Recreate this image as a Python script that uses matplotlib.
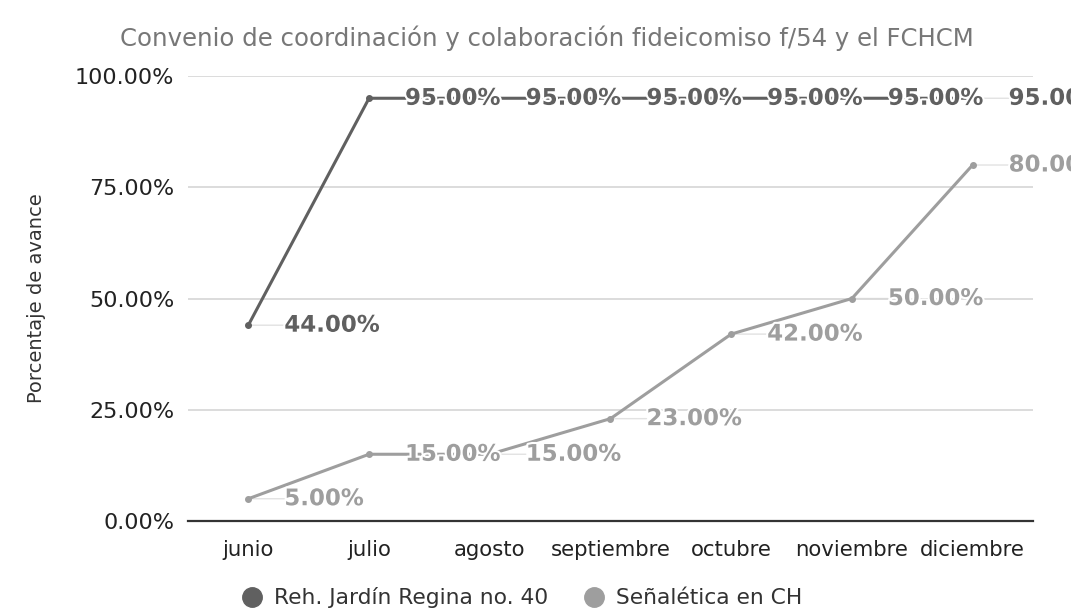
import matplotlib
matplotlib.use("Agg")
import matplotlib.pyplot as plt
import matplotlib.patheffects as pe
from matplotlib.ticker import FuncFormatter
from matplotlib.lines import Line2D

meses = ["junio", "julio", "agosto", "septiembre", "octubre", "noviembre", "diciembre"]
jardin_regina = [44, 95, 95, 95, 95, 95, 95]
senaletica = [5, 15, 15, 23, 42, 50, 80]
series_names = ["Reh. Jardín Regina no. 40", "Señalética en CH"]
series_colors = ["#606060", "#9e9e9e"]

plt.rcParams['font.family'] = ['DejaVu Sans']

fig = plt.figure(figsize=(10.71, 6.10), dpi=100)
ax = fig.add_axes([0.1755, 0.1459, 0.789, 0.7295])

x = list(range(len(meses)))
for vals, color in zip([jardin_regina, senaletica], series_colors):
    ax.plot(x, vals, color=color, lw=2.2, marker='o', markersize=4, zorder=3,
            solid_capstyle='round')

# value labels to the right of each point; the faint leader line sits under the series lines
for vals, color in zip([jardin_regina, senaletica], series_colors):
    for xi, v in zip(x, vals):
        ax.annotate("", xy=(xi, v), xytext=(36, 0), textcoords='offset pixels',
                    annotation_clip=False, zorder=1,
                    arrowprops=dict(arrowstyle='-', color='#e2e2e2', lw=1,
                                    shrinkA=0, shrinkB=0))
        ax.annotate("{:.2f}%".format(v), xy=(xi, v), xytext=(36, 0),
                    textcoords='offset pixels', ha='left', va='center',
                    fontsize=16.5, fontweight='bold', color=color,
                    annotation_clip=False, zorder=4,
                    path_effects=[pe.withStroke(linewidth=3, foreground='white')])

ax.set_xlim(-0.5, len(meses) - 0.5)
ax.set_ylim(0, 100)
ax.set_yticks([0, 25, 50, 75, 100])
ax.yaxis.set_major_formatter(FuncFormatter(lambda v, p: "{:.2f}%".format(v)))
ax.set_xticks(x)
ax.set_xticklabels(meses)
ax.tick_params(axis='both', length=0, colors='#222222')
ax.tick_params(axis='x', pad=14, labelsize=15.3)
ax.tick_params(axis='y', pad=10, labelsize=16)
ax.grid(axis='y', color='#d6d6d6', lw=1.2, zorder=0)
for s in ['top', 'right', 'left']:
    ax.spines[s].set_visible(False)
ax.spines['bottom'].set_color('#333333')
ax.spines['bottom'].set_linewidth(1.6)
ax.spines['bottom'].set_zorder(2)

ax.set_ylabel("Porcentaje de avance", fontsize=14, color='#333333')
ax.yaxis.set_label_coords(-0.168, 0.5)
fig.text(0.112, 0.937, "Convenio de coordinación y colaboración fideicomiso f/54 y el FCHCM",
         fontsize=17.6, color='#777777', ha='left', va='center')

handles = [Line2D([], [], marker='o', ls='', markersize=14, color=c) for c in series_colors]
fig.legend(handles, series_names, loc='center', bbox_to_anchor=(0.487, 0.02),
           ncol=2, frameon=False, fontsize=15.7, labelcolor='#333333',
           handletextpad=0.5, columnspacing=1.6, handlelength=1.0)

fig.savefig("out.png", dpi=100)
